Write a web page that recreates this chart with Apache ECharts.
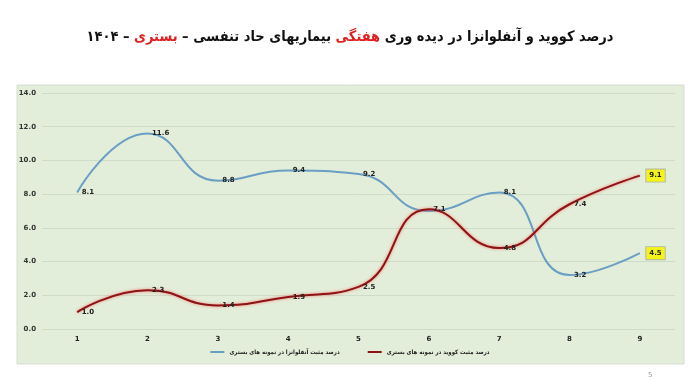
<!DOCTYPE html>
<html><head><meta charset="utf-8">
<script src="https://cdn.jsdelivr.net/npm/echarts@6/dist/echarts.min.js"></script>
<style>html,body{margin:0;padding:0;background:#fff}#c{width:700px;height:381px}</style>
</head><body><div id="c"></div>
<script>
const categories = ['1','2','3','4','5','6','7','8','9'];
const influenza = [8.1, 11.6, 8.8, 9.4, 9.2, 7.0, 8.1, 3.2, 4.5];
const covid = [1.0, 2.3, 1.4, 1.9, 2.5, 7.1, 4.8, 7.4, 9.1];
const influenzaName = 'درصد مثبت آنفلوانزا در نمونه های بستری';
const covidName = 'درصد مثبت کووید در نمونه های بستری';

const chart = echarts.init(document.getElementById('c'));
const F = 'DejaVu Sans, sans-serif';
const FC = '"DejaVu Sans Condensed", "DejaVu Sans", sans-serif';
const BLUE = '#6b9ec4', RED = '#8c1414';
const lbl = {show:true, position:'right', distance:4, fontSize:7, fontWeight:'bold', color:'#222', fontFamily:F,
  formatter: p => p.value.toFixed(1)};
function build(arr, hidden){
  return arr.map((v,i)=> {
    if (i===arr.length-1) return {value:v, label:{backgroundColor:'#f4f41c', borderColor:'#b8b8a0', borderWidth:1, padding:[3,3,2,3], distance:6}};
    if (hidden.indexOf(i) >= 0) return {value:v, label:{show:false}};
    return v;
  });
}
chart.setOption({
  backgroundColor:'#fff',
  animation:false,
  title:{
    left:'center', top:25,
    text:'{b|۱۴۰۴ – }{r|بستری}{b| – بیماریهای حاد تنفسی }{r|هفتگی}{b| درصد کووید و آنفلوانزا در دیده وری}',
    textStyle:{rich:{
      b:{fontSize:14.5, fontWeight:'bold', color:'#111', fontFamily:FC},
      r:{fontSize:14.5, fontWeight:'bold', color:'#e02020', fontFamily:FC}
    }}
  },
  graphic:[
    {type:'rect', shape:{x:17, y:85, width:667, height:279}, style:{fill:'#e2eed9', stroke:'#d6ddd2', lineWidth:1}, z:-10, silent:true},
    {type:'text', left:648, top:372, style:{text:'5', fontSize:7, fill:'#999', fontFamily:F}, silent:true}
  ],
  grid:{left:42, right:25, top:93, bottom:52},
  legend:{
    bottom:21, left:'center', itemGap:28, itemWidth:14, itemHeight:2, icon:'rect',
    textStyle:{fontSize:6, fontWeight:'bold', color:'#222', fontFamily:FC},
    data:[{name:influenzaName, itemStyle:{color:BLUE}}, {name:covidName, itemStyle:{color:RED}}]
  },
  xAxis:{type:'category', data:categories, boundaryGap:true,
    axisLine:{show:false}, axisTick:{show:false},
    axisLabel:{fontSize:7, fontWeight:'bold', color:'#222', margin:7, fontFamily:F}},
  yAxis:{type:'value', min:0, max:14, interval:2,
    axisLine:{show:false}, axisTick:{show:false},
    splitLine:{lineStyle:{color:'#cfdcc8', width:1}},
    axisLabel:{fontSize:7, fontWeight:'bold', color:'#333', margin:6, fontFamily:F, formatter:v=>v.toFixed(1)}},
  series:[
    {name:influenzaName, type:'line', smooth:0.5, data:build(influenza,[5]), symbol:'circle', symbolSize:1, showSymbol:true,
      lineStyle:{color:BLUE, width:2}, itemStyle:{color:'rgba(0,0,0,0)', borderWidth:0}, label:lbl, z:2},
    {name:covidName, type:'line', smooth:0.5, data:build(covid,[]), symbol:'circle', symbolSize:1, showSymbol:true,
      lineStyle:{color:RED, width:2, shadowColor:'rgba(255,90,90,0.8)', shadowBlur:3},
      itemStyle:{color:'rgba(0,0,0,0)', borderWidth:0}, label:lbl, z:3}
  ]
});
</script></body></html>
